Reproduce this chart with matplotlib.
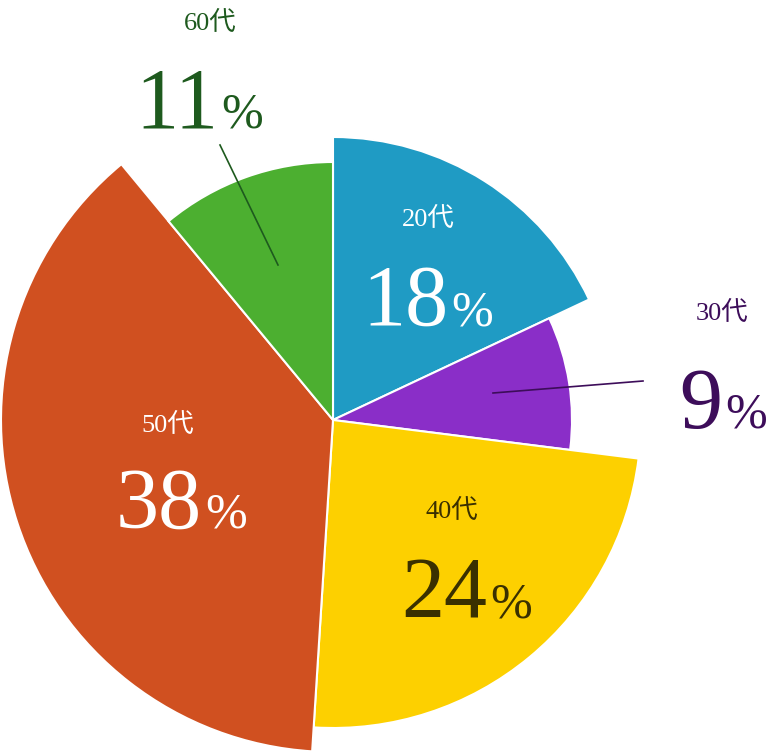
import matplotlib
matplotlib.use("Agg")
import matplotlib.pyplot as plt
from matplotlib.patches import Wedge

# data
labels = ["20代", "30代", "40代", "50代", "60代"]
shares = [18, 9, 24, 38, 11]
radii = [283, 239, 308, 332, 258]
colors = ["#1f9bc4", "#8a2ec8", "#fdd000", "#d05020", "#4caf30"]
text_colors = ["white", "#3d0d5a", "#3a3000", "white", "#1e5a1e"]

W, H = 780, 756
cx, cy = 333, H - 420

# label layout (image pixel coords): split x, number baseline y, label baseline y
split_x = [448, 722, 487, 202, 218]
num_y = [325, 428, 617, 528, 127]
lab_y = [226, 320, 518, 432, 30]
lab_x = [428, 722, 452, 168, 210]

fig = plt.figure(figsize=(W / 100, H / 100), dpi=100)
ax = fig.add_axes([0, 0, 1, 1])
ax.set_xlim(0, W)
ax.set_ylim(0, H)
ax.axis("off")

start = 0.0
for s, r, c in zip(shares, radii, colors):
    a1 = start * 3.6
    a2 = (start + s) * 3.6
    ax.add_patch(Wedge((cx, cy), r, 90 - a2, 90 - a1, facecolor=c,
                       edgecolor="white", linewidth=1.5))
    start += s

# leader lines
ax.plot([493, 643], [H - 393, H - 381], color="#3d0d5a", lw=1.2)
ax.plot([220, 278], [H - 145, H - 265], color="#1e5a1e", lw=1.2)

fam = ["Liberation Serif", "Noto Sans CJK JP"]
for i in range(len(labels)):
    tc = text_colors[i]
    ax.text(lab_x[i], H - lab_y[i], labels[i], color=tc, fontsize=19,
            family=fam, ha="center", va="baseline")
    ax.text(split_x[i], H - num_y[i], str(shares[i]), color=tc, fontsize=62,
            family=fam, ha="right", va="baseline")
    ax.text(split_x[i] + 3, H - num_y[i], "%", color=tc, fontsize=36,
            family=fam, ha="left", va="baseline")

fig.savefig("out.png", dpi=100)
